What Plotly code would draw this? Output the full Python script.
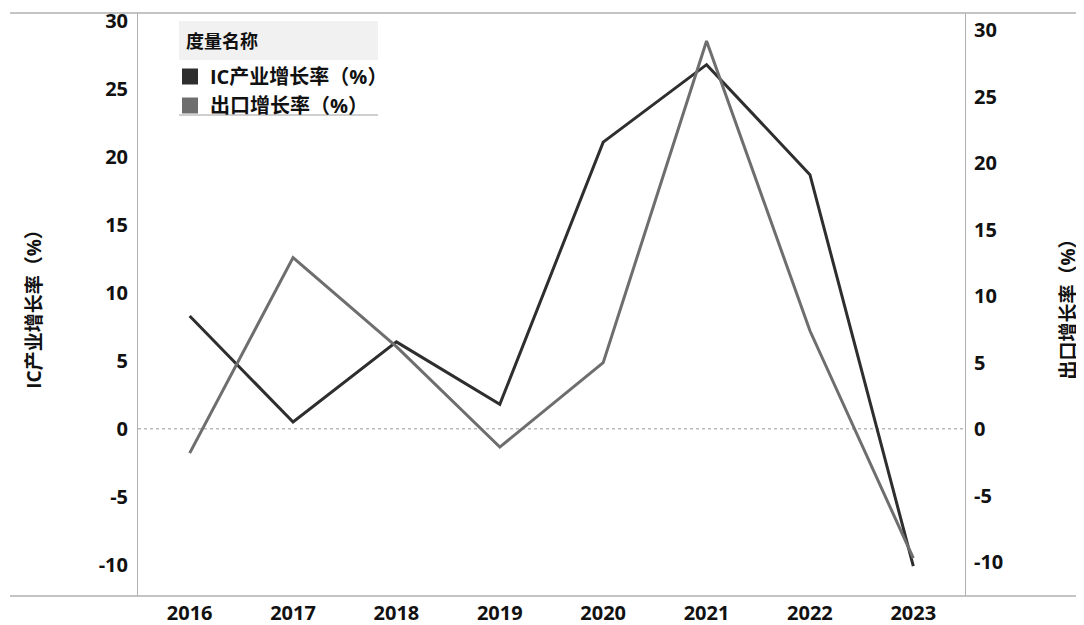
import plotly.graph_objects as go

years = ["2016", "2017", "2018", "2019", "2020", "2021", "2022", "2023"]
ic_growth = [8.3, 0.5, 6.4, 1.8, 21.1, 26.8, 18.7, -10.1]
export_growth = [-1.8, 12.9, 6.2, -1.35, 5.0, 29.2, 7.4, -9.7]
y_ticks = [-10, -5, 0, 5, 10, 15, 20, 25, 30]
y_tick_text = ["-10", "-5", "0", "5", "10", "15", "20", "25", "30"]

ic_name = "IC产业增长率（%）"
ex_name = "出口增长率（%）"
legend_title = "度量名称"

ic_color = "#2e2e2e"
ex_color = "#6e6e6e"
FONT = "Open Sans, Noto Sans CJK SC, sans-serif"

fig = go.Figure()
fig.add_trace(go.Scatter(x=years, y=ic_growth, mode="lines", name=ic_name,
                         line=dict(color=ic_color, width=3), yaxis="y", showlegend=False))
fig.add_trace(go.Scatter(x=years, y=export_growth, mode="lines", name=ex_name,
                         line=dict(color=ex_color, width=3), yaxis="y2", showlegend=False))
# legend entries (square swatches)
fig.add_trace(go.Scatter(x=[None], y=[None], mode="markers", name=ic_name,
                         marker=dict(symbol="square", size=17, color=ic_color)))
fig.add_trace(go.Scatter(x=[None], y=[None], mode="markers", name=ex_name,
                         marker=dict(symbol="square", size=17, color=ex_color)))

# page offset (body margin of the html page)
OFF = 8
W, H = 1084 - OFF, 625 - OFF
# plot area edges in page pixels
PL, PR, PT, PB = 138, 965, 13, 596
L, R, T, B = PL - OFF, W - (PR - OFF), PT - OFF, H - (PB - OFF)
pw, ph = W - L - R, H - T - B

def px_x(p):
    return (p - OFF - L) / pw

def px_y(p):
    return (H - B - (p - OFF)) / ph

FS = 20
tickfont = dict(family=FONT, size=FS, color="#111", weight="bold")
titlefont = dict(family=FONT, size=19, color="#111", weight="bold")

fig.update_layout(
    width=W, height=H,
    margin=dict(l=L, r=R, t=T, b=B),
    paper_bgcolor="white", plot_bgcolor="white",
    font=dict(family=FONT, color="#111"),
    xaxis=dict(type="category", range=[-0.5, 7.5], showgrid=False, zeroline=False,
               showline=False, ticks="", tickfont=tickfont, ticklabelstandoff=3,
               automargin=False),
    yaxis=dict(range=[-12.3, 30.6], tickvals=y_ticks, ticktext=y_tick_text,
               showgrid=False, zeroline=False,
               showline=True, linecolor="#b0b0b0", linewidth=1, ticks="",
               tickfont=tickfont, ticklabelstandoff=5, ticklabeloverflow="allow",
               automargin=False,
               title=dict(text=ic_name, font=titlefont, standoff=52)),
    yaxis2=dict(range=[-12.55, 31.3], tickvals=y_ticks, ticktext=y_tick_text,
                overlaying="y", side="right",
                showgrid=False, zeroline=False, showline=True, linecolor="#b0b0b0",
                linewidth=1, ticks="", tickfont=tickfont, ticklabelstandoff=4,
                ticklabeloverflow="allow", automargin=False,
                title=dict(text=ex_name, font=titlefont, standoff=59)),
    legend=dict(x=px_x(170), y=px_y(57), xanchor="left", yanchor="top",
                bgcolor="rgba(0,0,0,0)",
                font=dict(family=FONT, size=FS, weight="bold"),
                itemwidth=30, tracegroupgap=0),
    annotations=[
        dict(text=legend_title, xref="paper", yref="paper", x=px_x(184), y=px_y(41),
             xanchor="left", yanchor="middle", showarrow=False,
             font=dict(family=FONT, size=18, weight="bold", color="#111")),
    ],
    shapes=[
        dict(type="rect", xref="paper", yref="paper", x0=px_x(179), x1=px_x(378),
             y0=px_y(21), y1=px_y(60), fillcolor="#f1f1f1", line=dict(width=0), layer="below"),
        dict(type="line", xref="paper", yref="paper", x0=px_x(179), x1=px_x(378),
             y0=px_y(115), y1=px_y(115), line=dict(color="#a0a0a0", width=1)),
        dict(type="line", xref="paper", yref="y", x0=0, x1=1, y0=0, y1=0,
             line=dict(color="#9a9a9a", width=1, dash="dot"), layer="below"),
        dict(type="line", xref="paper", yref="paper", x0=px_x(10), x1=px_x(1084),
             y0=1, y1=1, line=dict(color="#b0b0b0", width=1.5)),
        dict(type="line", xref="paper", yref="paper", x0=px_x(10), x1=px_x(1084),
             y0=0, y1=0, line=dict(color="#b0b0b0", width=1.5)),
    ],
)

fig.write_html("out.html")
